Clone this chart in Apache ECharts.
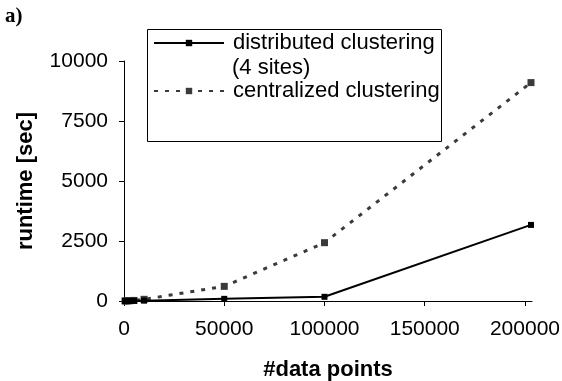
<!DOCTYPE html>
<html><head><meta charset="utf-8">
<script src="https://cdn.jsdelivr.net/npm/echarts@6/dist/echarts.min.js"></script>
<style>html,body{margin:0;padding:0;background:#fff}#c{width:562px;height:381px}</style>
</head><body><div id="c"></div>
<script>
const xPoints = [500, 1000, 2000, 3000, 5000, 10000, 50000, 100000, 203000];
const distributed = [1, 2, 3, 5, 8, 15, 90, 175, 3170];
const centralized = [2, 4, 8, 12, 25, 70, 610, 2430, 9100];
const yTicks = [0, 2500, 5000, 7500, 10000];
const xTicks = [0, 50000, 100000, 150000, 200000];
const seriesNames = ['distributed clustering', 'centralized clustering'];

const font = 'Liberation Sans, Arial, sans-serif';
const chart = echarts.init(document.getElementById('c'));
chart.setOption({
  animation: false,
  grid: {left: 124, top: 61, right: 30, bottom: 80, containLabel: false, outerBoundsMode: 'none'},
  xAxis: {
    type: 'value', min: 0, max: 203500, interval: 50000,
    name: '#data points', nameLocation: 'middle', nameGap: 58,
    nameTextStyle: {fontFamily: font, fontSize: 22, fontWeight: 'bold', color: '#000'},
    axisLine: {show: true, lineStyle: {color: '#000', width: 1}},
    axisTick: {show: true, length: 5, inside: false, lineStyle: {color: '#000'}},
    axisLabel: {fontFamily: font, fontSize: 21, color: '#000', margin: 18, showMaxLabel: false,
      formatter: v => xTicks.includes(v) ? String(v) : ''},
    splitLine: {show: false}
  },
  yAxis: {
    type: 'value', min: 0, max: 10000, interval: 2500,
    name: 'runtime [sec]', nameLocation: 'middle', nameGap: 87, nameRotate: 90,
    nameTextStyle: {fontFamily: font, fontSize: 22, fontWeight: 'bold', color: '#000'},
    axisLine: {show: true, lineStyle: {color: '#000', width: 1}},
    axisTick: {show: true, length: 5, lineStyle: {color: '#000'}},
    axisLabel: {fontFamily: font, fontSize: 21, color: '#000', margin: 16,
      formatter: v => yTicks.includes(v) ? String(v) : ''},
    splitLine: {show: false}
  },
  legend: [{
    data: [seriesNames[0]], left: 153, top: 32, padding: 0, itemWidth: 70, itemHeight: 8, itemGap: 0,
    textStyle: {fontFamily: font, fontSize: 22, color: '#000', padding: [0,0,0,4]}
  }, {
    data: [seriesNames[1]], left: 153, top: 80, padding: 0, itemWidth: 70, itemHeight: 8, itemGap: 0,
    textStyle: {fontFamily: font, fontSize: 22, color: '#000', padding: [0,0,0,4]}
  }],
  graphic: [
    {type: 'rect', left: 145, top: 27, shape: {width: 294, height: 112}, style: {fill: 'none', stroke: '#000', lineWidth: 1}, z: -1},
    {type: 'text', left: 232, top: 57, style: {text: '(4 sites)', font: '22px ' + font, fill: '#000'}},
    {type: 'text', left: 5, top: 6, style: {text: 'a)', font: 'bold 21px Liberation Serif, Times New Roman, serif', fill: '#000'}}
  ],
  series: [{
    name: seriesNames[0], type: 'line',
    data: xPoints.map((x, i) => [x, distributed[i]]),
    symbol: 'rect', symbolSize: 6,
    itemStyle: {color: '#000'},
    lineStyle: {color: '#000', width: 2}, z: 3
  }, {
    name: seriesNames[1], type: 'line',
    data: xPoints.map((x, i) => [x, centralized[i]]),
    symbol: 'rect', symbolSize: 7,
    itemStyle: {color: '#3a3a3a'},
    lineStyle: {color: '#3a3a3a', width: 3, type: [4, 7]}, z: 2
  }]
});
</script></body></html>
